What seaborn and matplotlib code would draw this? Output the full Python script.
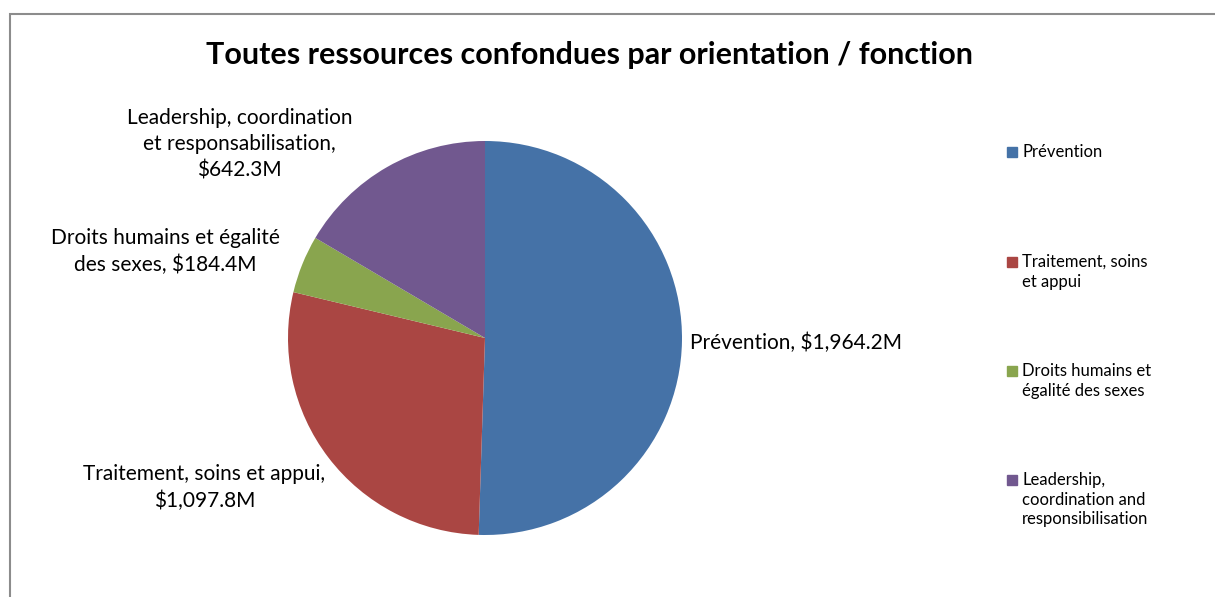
import matplotlib
matplotlib.use('Agg')
import matplotlib.pyplot as plt
import matplotlib.patches as mpatches
import seaborn as sns

# data
categories = ['Prévention', 'Traitement, soins et appui',
              'Droits humains et égalité des sexes',
              'Leadership, coordination et responsabilisation']
values = [1964.2, 1097.8, 184.4, 642.3]
slice_labels = ['Prévention, $1,964.2M',
                'Traitement, soins et appui,\n$1,097.8M',
                'Droits humains et égalité\ndes sexes, $184.4M',
                'Leadership, coordination\net responsabilisation,\n$642.3M']
legend_labels = ['Prévention',
                 'Traitement, soins\net appui',
                 'Droits humains et\négalité des sexes',
                 'Leadership,\ncoordination and\nresponsibilisation']
colors = ['#4572A7', '#AA4643', '#89A54E', '#71588F']

# label placement (pie radius units), like Excel's best-fit labels
label_pos = [(1.04, -0.025, 'left'), (-0.81, -0.76, 'right'),
             (-1.04, 0.44, 'right'), (-0.675, 0.985, 'right')]
# legend entry first-line heights (pixels from top)
legend_y = [152, 262, 371, 480]

sns.set_theme(style='white')
plt.rcParams['font.family'] = ['Lato', 'DejaVu Sans']

W, H = 1215, 597
fig = plt.figure(figsize=(W / 100, H / 100), dpi=100)

# outer chart frame (left and top edges visible)
frame = mpatches.Rectangle((10 / W, -0.1), 1.2, 1.1 - 14 / H,
                           transform=fig.transFigure, fill=False,
                           edgecolor='#8c8c8c', linewidth=1.5)
fig.add_artist(frame)

fig.text(590 / W, 1 - 55 / H,
         'Toutes ressources confondues par orientation / fonction',
         ha='center', va='center', fontsize=22, fontweight='bold', color='black')

ax = fig.add_axes([(485 - 197) / W, (259 - 197) / H, 394 / W, 394 / H])
wedges, texts = ax.pie(values, labels=slice_labels, colors=colors, startangle=90,
                       counterclock=False,
                       textprops={'fontsize': 15, 'color': 'black',
                                  'multialignment': 'center',
                                  'linespacing': 1.4},
                       wedgeprops={'linewidth': 0})
for t, (x, y, ha) in zip(texts, label_pos):
    t.set_position((x, y))
    t.set_ha(ha)
    t.set_va('center')
ax.set_xlim(-1, 1)
ax.set_ylim(-1, 1)
ax.set_aspect('equal')

# legend drawn entry by entry so the marker sits on the first text line
for c, lab, y in zip(colors, legend_labels, legend_y):
    fig.add_artist(mpatches.Rectangle((1007 / W, 1 - (y + 5) / H), 10 / W, 10 / H,
                                      transform=fig.transFigure, color=c))
    fig.text(1022 / W, 1 - (y - 8) / H, lab, ha='left', va='top',
             fontsize=12, linespacing=1.27, color='black')

fig.savefig('out.png', dpi=100)
